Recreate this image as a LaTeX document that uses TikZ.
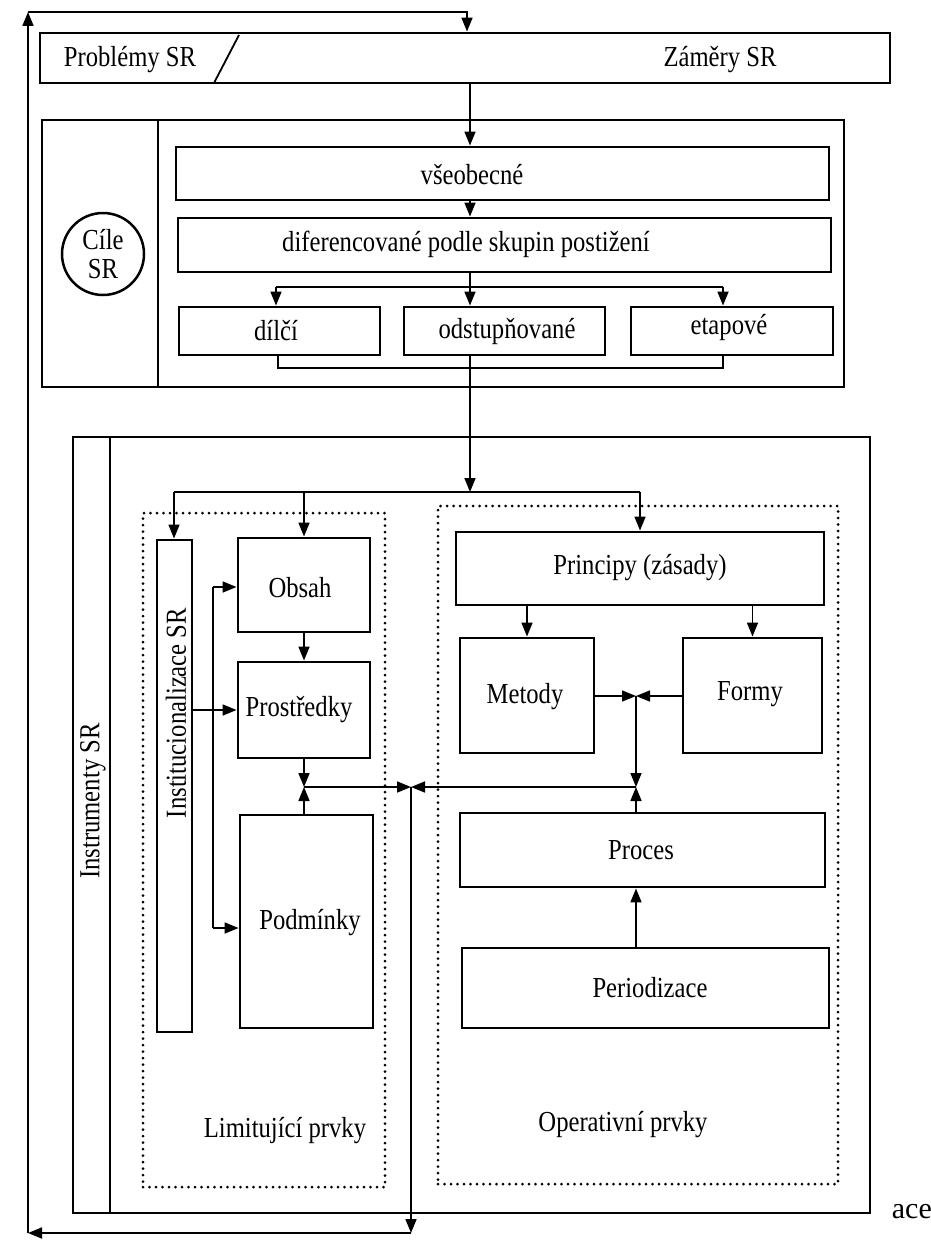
\documentclass[tikz,border=0pt]{standalone}
\usepackage{fontspec}
\setmainfont{Liberation Serif}[FakeStretch=0.85]
\newfontfamily\plainserif{Liberation Serif}
\usetikzlibrary{arrows.meta}
\newcommand\dfs{\fontsize{29}{29}\selectfont}
\newcommand\mkbox[6]{%
  \pgfmathsetmacro\bxx{(#3+#5)/2}\pgfmathsetmacro\bxy{(#4+#6)/2}%
  \pgfmathsetmacro\bxw{#5-#3}\pgfmathsetmacro\bxh{#6-#4}%
  \node[#1, minimum width=\bxw pt, minimum height=\bxh pt] (#2) at (\bxx,\bxy) {};}
\begin{document}
\begin{tikzpicture}[x=1pt,y=-1pt,
  box/.style={draw, line width=2.9pt, inner sep=0pt},
  frm/.style={draw, line width=2.7pt, inner sep=0pt},
  dotbox/.style={draw, line width=3pt, dash pattern=on 0pt off 6.5pt, line cap=round, inner sep=0pt},
  con/.style={line width=1.7pt},
  arr/.style={con, -{Triangle[length=14pt,width=11pt]}},
  lbl/.style={inner sep=0pt, font=\dfs},
  vlbl/.style={inner sep=0pt, font=\dfs, rotate=90}]
\useasboundingbox (0,0) rectangle (930,1255);
\fill[white] (0,0) rectangle (930,1255);

% ---------- top: problems / intentions ----------
\mkbox{box}{probl}{40}{33}{890}{83}
\draw[line width=1.8pt] (214,83) -- (239,35);
\node[lbl] (problt) at (130,60) {Problémy SR};
\node[lbl] (zamt) at (720,60) {Záměry SR};

% ---------- goals frame ----------
\mkbox{frm}{cile}{42}{120}{844}{387}
\draw[frm] (158,120) -- (158,387);
\node[draw, circle, line width=2.5pt, minimum size=82pt, inner sep=0pt, align=center, font=\dfs] (cilec) at (103,254) {Cíle\\SR};
\mkbox{box}{vseob}{176}{147}{829}{200}
\node[lbl] (vseobt) at (472,175) {všeobecné};
\mkbox{box}{dif}{178}{218}{831}{272}
\node[lbl] (dift) at (466,244) {diferencované podle skupin postižení};
\mkbox{box}{dilci}{179}{307}{380}{355}
\node[lbl] (dilcit) at (276,331) {dílčí};
\mkbox{box}{odst}{404}{307}{605}{355}
\node[lbl] (odstt) at (507,331) {odstupňované};
\mkbox{box}{etap}{631}{307}{833}{355}
\node[lbl] (etapt) at (729,328) {etapové};

\coordinate (sp) at (470,0);
\coordinate (b1) at (276,287);
\coordinate (b2) at (723,287);
\coordinate (c1) at (278,368);
\coordinate (c2) at (723,368);
\draw[arr] (probl.south -| sp) -- (vseob.north -| sp);
\draw[arr] (vseob.south -| sp) -- (dif.north -| sp);
\draw[arr] (dif.south -| sp) -- (odst.north -| sp);
\draw[con] (b1) -- (b2);
\draw[arr] (b1) -- (b1 |- dilci.north);
\draw[arr] (b2) -- (b2 |- etap.north);
\draw[con] (dilci.south -| c1) -- (c1) -- (c2) -- (etap.south -| c2);

% ---------- lower frame ----------
\mkbox{frm}{bigf}{73}{437}{870}{1213}
\draw[frm] (110,437) -- (110,1213);
\node[vlbl] (instr) at (93,801) {Instrumenty SR};

\mkbox{dotbox}{limit}{143}{513}{385}{1187}
\mkbox{dotbox}{oper}{438}{506}{838}{1184}
\node[lbl] (limitt) at (285,1131) {Limitující prvky};
\node[lbl] (opert) at (623,1125) {Operativní prvky};

\mkbox{box}{narrow}{157}{540}{192}{1032}
\node[vlbl] (instit) at (176,713) {Institucionalizace SR};

\mkbox{box}{obsah}{238}{538}{370}{632}
\node[lbl] (obsaht) at (300,588) {Obsah};
\mkbox{box}{prostr}{238}{662}{370}{758}
\node[lbl] (prostrt) at (299,710) {Prostředky};
\mkbox{box}{podm}{240}{815}{373}{1028}
\node[lbl] (podmt) at (310,923) {Podmínky};

\mkbox{box}{princ}{456}{532}{824}{605}
\node[lbl] (princt) at (640,568) {Principy (zásady)};
\mkbox{box}{metody}{460}{638}{594}{753}
\node[lbl] (metodyt) at (525,697) {Metody};
\mkbox{box}{formy}{683}{638}{822}{753}
\node[lbl] (formyt) at (750,694) {Formy};
\mkbox{box}{proces}{460}{813}{825}{887}
\node[lbl] (procest) at (641,850) {Proces};
\mkbox{box}{period}{462}{948}{829}{1028}
\node[lbl] (periodt) at (650,988) {Periodizace};

% distribution from goals into the lower frame
\coordinate (br0) at (470,492);
\coordinate (l1) at (174,492);
\coordinate (l2) at (304,492);
\coordinate (l3) at (640,492);
\draw[arr] (odst.south -| sp) -- (br0);
\draw[con] (l1) -- (l3);
\draw[arr] (l1) -- (l1 |- narrow.north);
\draw[arr] (l2) -- (l2 |- obsah.north);
\draw[arr] (l3) -- (l3 |- princ.north);

% institutionalisation bus
\coordinate (bu1) at (213,587);
\coordinate (bu2) at (213,928);
\draw[con] (bu1) -- (bu2);
\draw[arr] (bu1) -- (bu1 -| obsah.west);
\draw[arr] (bu2) -- (bu2 -| podm.west);
\draw[arr] (narrow.east |- prostrt) -- (prostr.west |- prostrt);
\draw[arr] (obsah.south -| l2) -- (prostr.north -| l2);

% junctions
\coordinate (J1) at (304,787);
\coordinate (J2) at (636,696);
\coordinate (J3) at (411,787);
\coordinate (J4) at (636,787);
\draw[arr] (prostr.south -| J1) -- (J1);
\draw[arr] (podm.north -| J1) -- (J1);
\draw[arr] (J1) -- (J3);
\draw[arr] (princ.south -| metody.north) -- (metody.north);
\draw[arr] (princ.south -| formy.north) -- (formy.north);
\draw[arr] (metody.east |- J2) -- (J2);
\draw[arr] (formy.west |- J2) -- (J2);
\draw[arr] (J2) -- (J4);
\draw[arr] (proces.north -| J4) -- (J4);
\draw[arr] (J4) -- (J3);
\draw[arr] (period.north -| J4) -- (proces.south -| J4);

% feedback loop
\coordinate (rb) at (411,1233);
\coordinate (rl) at (28,1233);
\coordinate (rt) at (28,12);
\coordinate (tt) at (467,12);
\draw[arr] (J3) -- (rb);
\draw[arr] (rb) -- (rl);
\draw[arr] (rl) -- (rt);
\draw[arr] (rt) -- (tt) -- (tt |- probl.north);

\node[inner sep=0pt, anchor=east, font=\plainserif\fontsize{30}{32}\selectfont] (acet) at (932,1212) {ace};
\end{tikzpicture}
\end{document}
